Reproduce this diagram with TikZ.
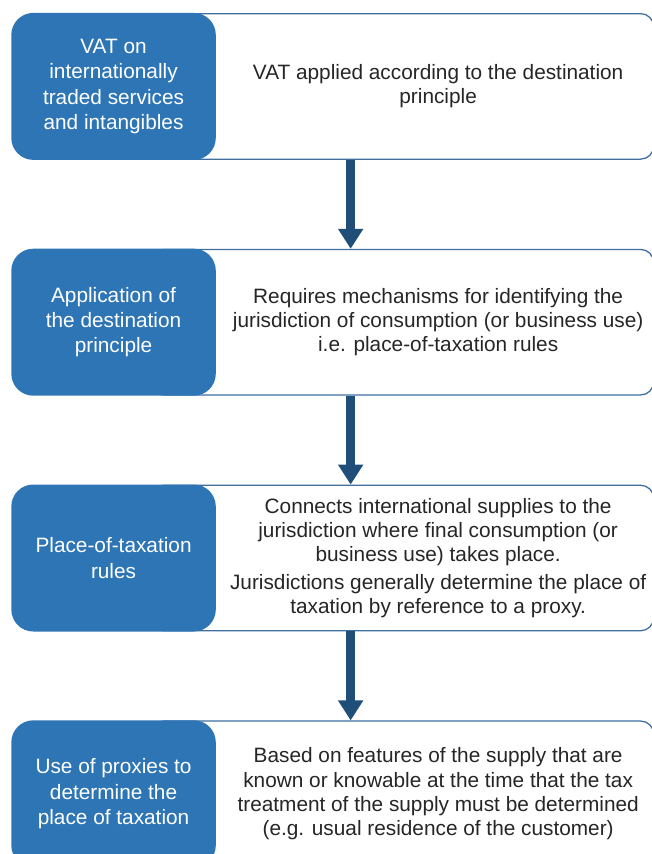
\documentclass[tikz,border=0pt]{standalone}
\usepackage{fontspec}
\setmainfont{Liberation Sans}
\usetikzlibrary{positioning,calc,arrows.meta}
\definecolor{headblue}{HTML}{2E75B6}
\definecolor{rimblue}{HTML}{3F6F9F}
\definecolor{flowblue}{HTML}{1F4E79}

\begin{document}
\begin{tikzpicture}[x=1pt,y=1pt,
  notebox/.style={draw=rimblue,line width=1.3pt,fill=white,rounded corners=13pt,
    minimum width=503pt,minimum height=145.5pt,inner sep=0pt},
  headbox/.style={fill=headblue,rounded corners=22pt,minimum width=204.5pt,
    minimum height=147pt,inner sep=0pt,text=white,align=center,
    font=\fontsize{20.8}{25.3}\selectfont},
  notetext/.style={align=center,text=black!85,xshift=3pt,
    font=\fontsize{20.8}{24.3}\selectfont},
  flow/.style={draw=flowblue,line width=8.6pt,-{Triangle[width=24pt,length=20pt]}},
  node distance=89pt]
% Page frame
\useasboundingbox (0,0) rectangle (651,-854);

% Note boxes (drawn first, heads sit on top)
\node[notebox,anchor=north west] (vatbox) at (150,-13) {};
\node[notebox,below=of vatbox] (destbox) {};
\node[notebox,below=of destbox] (placebox) {};
\node[notebox,below=of placebox] (proxybox) {};

% Heads
\node[headbox,left=-66pt of vatbox] (vat) {VAT on\\internationally\\traded services\\and intangibles};
\node[headbox,left=-66pt of destbox] (dest) {Application of\\the destination\\principle};
\node[headbox,left=-66pt of placebox] (place) {Place-of-taxation\\rules};
\node[headbox,left=-66pt of proxybox] (proxy) {Use of proxies to\\determine the\\place of taxation};

% Notes
\node[notetext] (vatnote) at ($(vat.east)!.5!(vatbox.east)$)
  {VAT applied according to the destination\\principle};
\node[notetext] (destnote) at ($(dest.east)!.5!(destbox.east)$)
  {Requires mechanisms for identifying the\\jurisdiction of consumption (or business use)\\i.e. place-of-taxation rules};
\node[notetext] (placenote) at ($(place.east)!.5!(placebox.east)$)
  {Connects international supplies to the\\jurisdiction where final consumption (or\\business use) takes place.\\[3pt]Jurisdictions generally determine the place of\\taxation by reference to a proxy.};
\node[notetext] (proxynote) at ($(proxy.east)!.5!(proxybox.east)$)
  {Based on features of the supply that are\\known or knowable at the time that the tax\\treatment of the supply must be determined\\(e.g. usual residence of the customer)};

% Flow
\draw[flow] ([xshift=-51.5pt]vatbox.south) -- ([xshift=-51.5pt]destbox.north);
\draw[flow] ([xshift=-51.5pt]destbox.south) -- ([xshift=-51.5pt]placebox.north);
\draw[flow] ([xshift=-51.5pt]placebox.south) -- ([xshift=-51.5pt]proxybox.north);

\end{tikzpicture}
\end{document}
